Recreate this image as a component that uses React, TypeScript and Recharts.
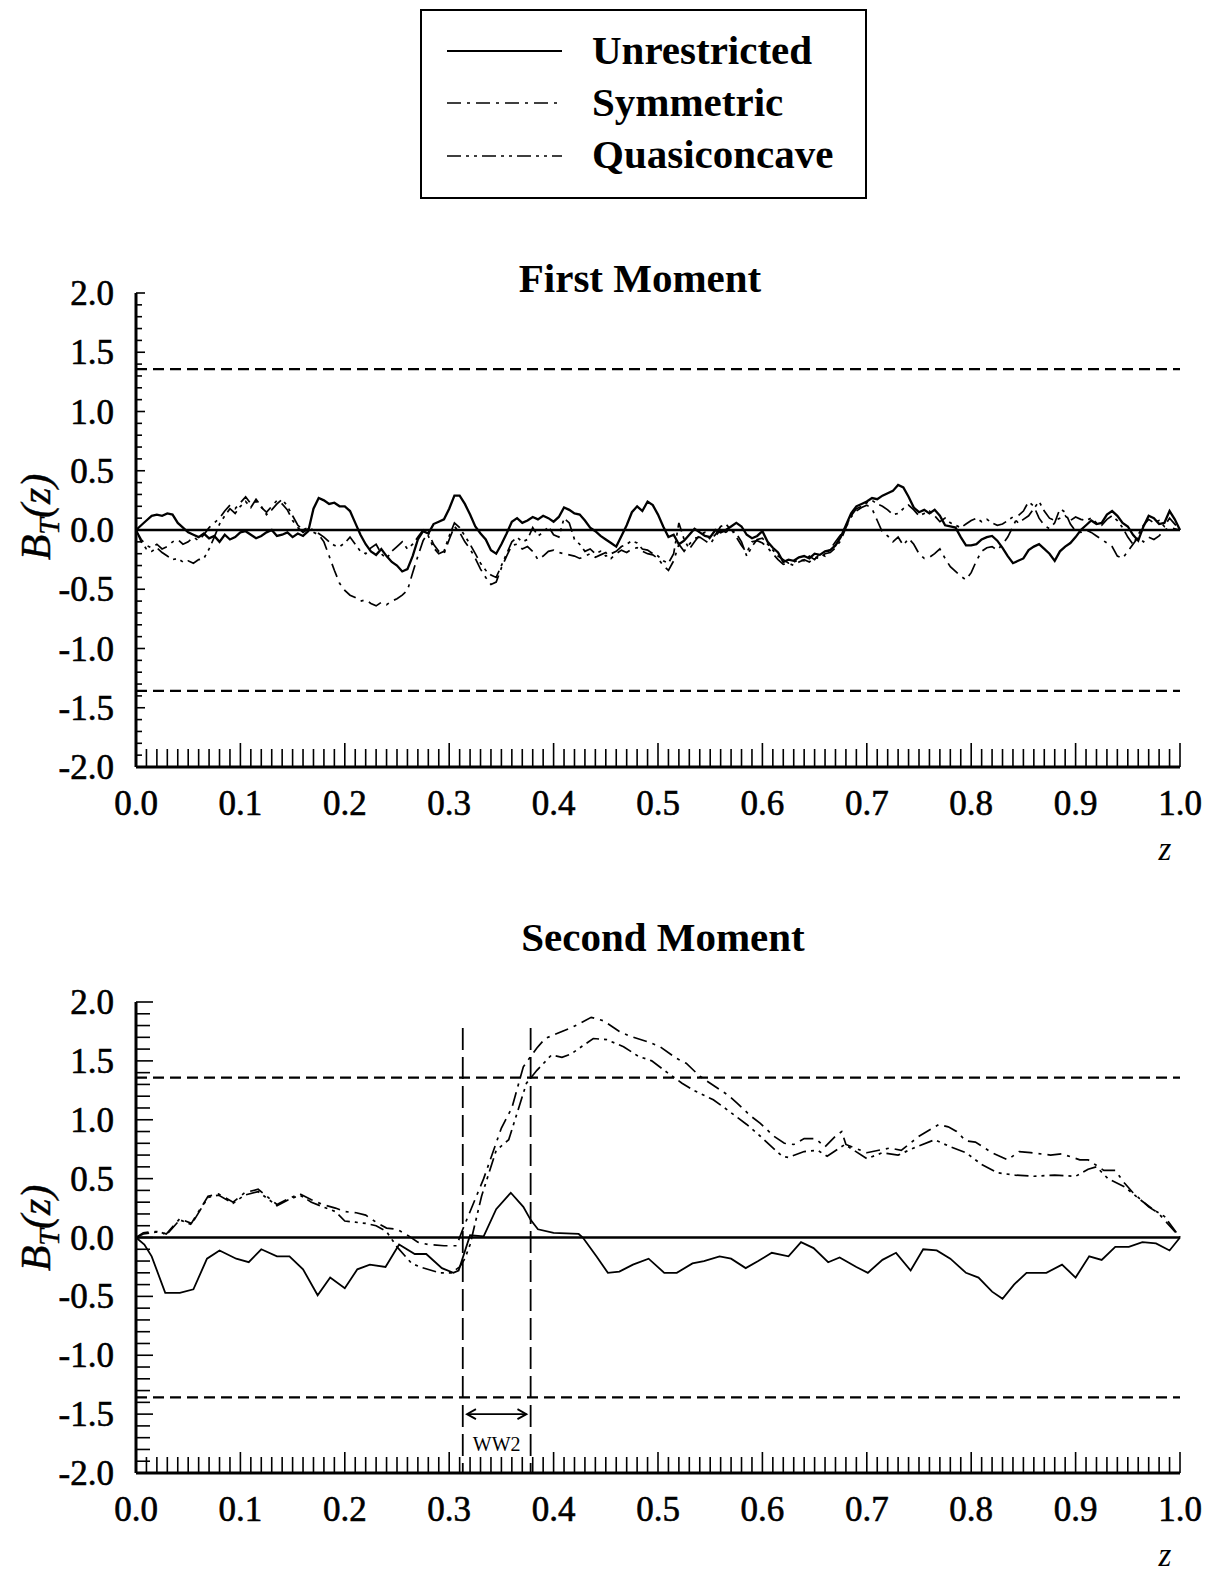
import React from "react";
import { LineChart, Line, XAxis, YAxis, ReferenceLine } from "recharts";

const FONT = '"Liberation Serif", "Times New Roman", serif';
const CRIT = 1.358;

// tick labels
const xLabelTicks = [0, 0.1, 0.2, 0.3, 0.4, 0.5, 0.6, 0.7, 0.8, 0.9, 1];
const yLabelTicks = [-2, -1.5, -1, -0.5, 0, 0.5, 1, 1.5, 2];
const xMinorTicks = Array.from({ length: 101 }, (_, i) => i / 100);
const yMinorTicks = Array.from({ length: 41 }, (_, i) => (i - 20) / 10);

// First moment: values on a 0.005 grid of z
const firstZ = Array.from({ length: 201 }, (_, i) => i / 200);

const firstUnrestricted = [
  0.0, 0.04, 0.08, 0.12, 0.13, 0.12, 0.14, 0.13, 0.06, 0.02,
  -0.02, -0.04, -0.06, -0.03, -0.07, -0.05, -0.1, -0.04, -0.08, -0.06,
  -0.02, -0.01, -0.04, -0.07, -0.05, -0.02, 0.0, -0.05, -0.04, -0.02,
  -0.06, -0.03, -0.05, -0.01, 0.18, 0.27, 0.25, 0.22, 0.23, 0.2,
  0.2, 0.16, 0.06, -0.04, -0.12, -0.18, -0.21, -0.16, -0.22, -0.27,
  -0.3, -0.35, -0.33, -0.22, -0.08, -0.01, -0.03, 0.05, 0.07, 0.09,
  0.18, 0.29, 0.29, 0.22, 0.13, 0.03, -0.03, -0.08, -0.17, -0.2,
  -0.12, -0.03, 0.07, 0.1, 0.06, 0.08, 0.11, 0.09, 0.12, 0.1,
  0.07, 0.11, 0.19, 0.17, 0.14, 0.13, 0.08, 0.02, -0.01, -0.05,
  -0.08, -0.11, -0.14, -0.05, 0.04, 0.15, 0.2, 0.16, 0.24, 0.21,
  0.13, 0.03, -0.06, -0.04, -0.12, -0.09, -0.04, 0.01, -0.02, -0.05,
  -0.06, 0.0, -0.02, 0.0, 0.03, 0.06, 0.03, -0.04, -0.07, -0.05,
  -0.01, -0.1, -0.15, -0.19, -0.27, -0.25, -0.26, -0.23, -0.22, -0.24,
  -0.2, -0.21, -0.18, -0.17, -0.13, -0.06, 0.04, 0.14, 0.2, 0.22,
  0.24, 0.27, 0.26, 0.29, 0.31, 0.33, 0.38, 0.36, 0.28, 0.19,
  0.15, 0.17, 0.14, 0.17, 0.12, 0.04, 0.03, 0.02, -0.06, -0.13,
  -0.13, -0.12, -0.08, -0.06, -0.05, -0.09, -0.15, -0.22, -0.28, -0.26,
  -0.24, -0.17, -0.14, -0.12, -0.16, -0.2, -0.26, -0.18, -0.14, -0.11,
  -0.06, 0.0, 0.04, 0.08, 0.05, 0.06, 0.13, 0.16, 0.12, 0.06,
  0.03, -0.04, -0.09, 0.03, 0.12, 0.1, 0.05, 0.06, 0.16, 0.09,
  0.0,
];

const firstSymmetric = [
  0.0, -0.08, -0.13, -0.15, -0.12, -0.16, -0.14, -0.1, -0.08, -0.12,
  -0.1, -0.06, -0.09, -0.04, 0.02, 0.06, 0.1, 0.16, 0.21, 0.18,
  0.23, 0.28, 0.22, 0.24, 0.19, 0.15, 0.2, 0.25, 0.22, 0.17,
  0.08, 0.02, -0.02, 0.01, -0.02, -0.04, -0.1, -0.22, -0.34, -0.45,
  -0.51, -0.55, -0.57, -0.6, -0.59, -0.62, -0.64, -0.61, -0.63, -0.6,
  -0.58, -0.55, -0.51, -0.36, -0.22, -0.09, -0.02, -0.12, -0.18, -0.2,
  -0.08, 0.03, -0.02, -0.1, -0.16, -0.24, -0.33, -0.4, -0.46, -0.44,
  -0.32, -0.22, -0.13, -0.12, -0.16, -0.14, -0.18, -0.25, -0.22, -0.18,
  -0.17, -0.19, -0.2, -0.21, -0.22, -0.24, -0.22, -0.2, -0.23, -0.21,
  -0.19, -0.24, -0.2, -0.17, -0.19, -0.16, -0.15, -0.18, -0.2, -0.21,
  -0.24, -0.3, -0.34, -0.26, -0.12, -0.18, -0.12, -0.07, -0.06, -0.09,
  -0.12, -0.05, 0.0, -0.02, 0.01, -0.06, -0.13, -0.19, -0.1, -0.09,
  -0.11, -0.15, -0.2, -0.25, -0.29, -0.28, -0.3, -0.27, -0.25, -0.27,
  -0.23, -0.24, -0.2, -0.19, -0.15, -0.09, 0.02, 0.11, 0.16, 0.19,
  0.21, 0.18, 0.08, -0.02, -0.05, -0.1, -0.06, -0.13, -0.07, -0.12,
  -0.2, -0.24, -0.23, -0.2, -0.16, -0.24, -0.31, -0.35, -0.39, -0.42,
  -0.36, -0.26, -0.18, -0.15, -0.14, -0.17, -0.12, -0.06, 0.03, 0.12,
  0.16, 0.24, 0.2, 0.1, 0.04, 0.01, 0.06, 0.18, 0.15, 0.05,
  -0.01, -0.02, 0.0, -0.02, -0.05, -0.08, -0.11, -0.14, -0.22, -0.24,
  -0.18, -0.12, -0.06, -0.1, -0.06, -0.08, -0.05, 0.0, 0.02, 0.01,
  0.0,
];

const firstQuasi = [
  0.0, -0.1, -0.16, -0.18, -0.15, -0.19, -0.22, -0.25, -0.24, -0.27,
  -0.26, -0.28, -0.25, -0.24, -0.16, -0.06, 0.05, 0.12, 0.18, 0.14,
  0.2, 0.24, 0.19, 0.26, 0.2, 0.13, 0.17, 0.22, 0.26, 0.2,
  0.12, 0.04, 0.0, 0.02, 0.0, -0.03, -0.06, -0.1, -0.13, -0.14,
  -0.11, -0.06, -0.12, -0.18, -0.2, -0.15, -0.12, -0.2, -0.24, -0.18,
  -0.14, -0.1, -0.16, -0.12, -0.06, 0.0, -0.05, -0.15, -0.2, -0.18,
  -0.05, 0.06, 0.02, -0.05, -0.12, -0.2, -0.28, -0.34, -0.38, -0.4,
  -0.3, -0.2, -0.1, -0.06, -0.1, -0.08, 0.02, -0.05, -0.02, 0.03,
  -0.04, -0.06, 0.1, 0.06, -0.08, -0.12, -0.18, -0.16, -0.2, -0.18,
  -0.22, -0.2, -0.18, -0.14, -0.12, -0.09, -0.11, -0.16, -0.17, -0.2,
  -0.22, -0.26, -0.28, -0.2, 0.06, -0.08, -0.16, -0.1, -0.04, -0.02,
  -0.08, -0.04, 0.03, 0.05, 0.0, -0.03, -0.1, -0.22, -0.14, -0.08,
  -0.07, -0.12, -0.17, -0.22, -0.25, -0.28, -0.27, -0.25, -0.26, -0.22,
  -0.25, -0.2, -0.22, -0.16, -0.1, -0.04, 0.03, 0.12, 0.18, 0.2,
  0.23, 0.25, 0.22, 0.2, 0.17, 0.13, 0.14, 0.18, 0.21, 0.17,
  0.12, 0.14, 0.16, 0.12, 0.07, 0.1, 0.06, 0.04, 0.02, 0.05,
  0.08, 0.1, 0.07, 0.09, 0.06, 0.04, 0.05, 0.08, 0.11, 0.06,
  0.09, 0.12, 0.18, 0.24, 0.16, 0.1, 0.08, 0.1, 0.12, 0.08,
  0.11, 0.09, 0.08, 0.1, 0.06, 0.04, 0.09, 0.12, 0.08, 0.02,
  -0.06, -0.12, -0.04, 0.04, 0.09, 0.06, 0.08, 0.03, 0.1, 0.05,
  0.0,
];

// Second moment: [z, B] vertices
const secondUnrestricted: [number, number][] = [
  [0, 0], [0.008, -0.06], [0.015, -0.16], [0.028, -0.47], [0.042, -0.47],
  [0.055, -0.44], [0.068, -0.18], [0.08, -0.11], [0.096, -0.18], [0.108, -0.21],
  [0.12, -0.1], [0.135, -0.16], [0.147, -0.16], [0.16, -0.27], [0.174, -0.49],
  [0.186, -0.34], [0.2, -0.43], [0.212, -0.27], [0.224, -0.23], [0.239, -0.25],
  [0.252, -0.06], [0.267, -0.14], [0.278, -0.14], [0.293, -0.26], [0.304, -0.3],
  [0.309, -0.28], [0.32, 0.02], [0.333, 0.01], [0.345, 0.24], [0.359, 0.38],
  [0.371, 0.26], [0.378, 0.15], [0.385, 0.07], [0.4, 0.04], [0.424, 0.03],
  [0.428, 0], [0.441, -0.16], [0.452, -0.3], [0.463, -0.29], [0.476, -0.23],
  [0.491, -0.18], [0.506, -0.3], [0.518, -0.3], [0.533, -0.22], [0.544, -0.2],
  [0.559, -0.16], [0.57, -0.18], [0.584, -0.26], [0.596, -0.2], [0.609, -0.13],
  [0.625, -0.16], [0.637, -0.04], [0.649, -0.09], [0.663, -0.21], [0.674, -0.17],
  [0.69, -0.25], [0.701, -0.3], [0.715, -0.19], [0.728, -0.13], [0.742, -0.28],
  [0.754, -0.1], [0.767, -0.11], [0.78, -0.18], [0.795, -0.3], [0.807, -0.34],
  [0.82, -0.46], [0.83, -0.52], [0.841, -0.4], [0.853, -0.3], [0.861, -0.3],
  [0.872, -0.3], [0.887, -0.23], [0.9, -0.34], [0.913, -0.16], [0.925, -0.19],
  [0.938, -0.08], [0.951, -0.08], [0.964, -0.04], [0.977, -0.05], [0.99, -0.11],
  [1, 0],
];

const secondSymmetric: [number, number][] = [
  [0, 0], [0.007, 0.04], [0.015, 0.05], [0.023, 0.05], [0.029, 0.03], [0.042, 0.16],
  [0.053, 0.12], [0.069, 0.35], [0.079, 0.37], [0.093, 0.3], [0.104, 0.38], [0.117, 0.41],
  [0.135, 0.28], [0.146, 0.33], [0.157, 0.37], [0.168, 0.32], [0.179, 0.28], [0.191, 0.25],
  [0.2, 0.22], [0.211, 0.21], [0.22, 0.19], [0.23, 0.13], [0.24, 0.08], [0.25, 0.07],
  [0.26, 0.02], [0.27, -0.04], [0.28, -0.06], [0.295, -0.07], [0.307, -0.07], [0.313, 0.07],
  [0.333, 0.5], [0.35, 0.93], [0.36, 1.1], [0.371, 1.45], [0.384, 1.61], [0.392, 1.69],
  [0.408, 1.75], [0.419, 1.79], [0.436, 1.87], [0.448, 1.84], [0.463, 1.75], [0.473, 1.71],
  [0.491, 1.66], [0.502, 1.62], [0.518, 1.52], [0.527, 1.48], [0.54, 1.37], [0.55, 1.31],
  [0.567, 1.21], [0.576, 1.14], [0.589, 1.03], [0.598, 0.97], [0.611, 0.86], [0.621, 0.8],
  [0.63, 0.79], [0.64, 0.84], [0.651, 0.84], [0.66, 0.77], [0.67, 0.86], [0.676, 0.9],
  [0.68, 0.79], [0.7, 0.72], [0.722, 0.76], [0.733, 0.74], [0.75, 0.86], [0.769, 0.96],
  [0.778, 0.94], [0.786, 0.9], [0.795, 0.82], [0.804, 0.81], [0.82, 0.72], [0.835, 0.66],
  [0.846, 0.73], [0.857, 0.72], [0.876, 0.7], [0.887, 0.71], [0.904, 0.66], [0.912, 0.66],
  [0.927, 0.57], [0.938, 0.57], [0.947, 0.46], [0.955, 0.38], [0.97, 0.26], [0.979, 0.21],
  [0.988, 0.12], [1, 0],
];

const secondQuasi: [number, number][] = [
  [0, 0], [0.007, 0.03], [0.015, 0.04], [0.023, 0.05], [0.029, 0.02], [0.042, 0.15],
  [0.053, 0.11], [0.069, 0.34], [0.079, 0.36], [0.093, 0.29], [0.104, 0.36], [0.117, 0.39],
  [0.135, 0.27], [0.146, 0.32], [0.157, 0.36], [0.168, 0.3], [0.179, 0.26], [0.191, 0.22],
  [0.2, 0.14], [0.21, 0.13], [0.22, 0.12], [0.23, 0.1], [0.24, 0.05], [0.25, -0.08],
  [0.264, -0.22], [0.272, -0.25], [0.291, -0.3], [0.302, -0.3], [0.31, -0.25], [0.315, -0.18],
  [0.32, -0.06], [0.331, 0.35], [0.345, 0.74], [0.357, 0.83], [0.374, 1.31], [0.384, 1.42],
  [0.398, 1.55], [0.408, 1.53], [0.417, 1.56], [0.425, 1.61], [0.438, 1.69], [0.451, 1.68],
  [0.467, 1.62], [0.481, 1.54], [0.494, 1.5], [0.509, 1.4], [0.523, 1.31], [0.534, 1.25],
  [0.553, 1.17], [0.567, 1.08], [0.585, 0.96], [0.598, 0.86], [0.609, 0.77], [0.619, 0.69],
  [0.625, 0.68], [0.64, 0.73], [0.653, 0.74], [0.662, 0.69], [0.679, 0.79], [0.7, 0.67],
  [0.715, 0.72], [0.73, 0.7], [0.745, 0.76], [0.765, 0.83], [0.78, 0.77], [0.795, 0.72],
  [0.81, 0.62], [0.825, 0.55], [0.842, 0.53], [0.86, 0.52], [0.88, 0.53], [0.9, 0.52],
  [0.912, 0.58], [0.92, 0.6], [0.931, 0.5], [0.947, 0.43], [0.962, 0.32], [0.974, 0.24],
  [0.985, 0.18], [1, 0],
];

// WW2 window
const ww2Start = 0.313;
const ww2End = 0.378;

const SYM_DASH = "14 6 3 6";
const QUASI_DASH = "14 5 3 5 3 5";

const gridSeries = (vals: number[]) => vals.map((v, i) => ({ z: firstZ[i], v }));
const pairSeries = (pts: [number, number][]) => pts.map(([z, v]) => ({ z, v }));

const isIn = (list: number[], v: number) => list.some((t) => Math.abs(t - v) < 1e-9);

type PanelProps = {
  top: number;
  height: number;
  plotTop: number;
  plotBottom: number;
  yMinorLen: number;
  yMajorLen: number;
  xMinorLen: number;
  xMajorLen: number;
  lineWidth: number;
  solidWidth: number;
  unrestricted: { z: number; v: number }[];
  symmetric: { z: number; v: number }[];
  quasi: { z: number; v: number }[];
  children?: React.ReactNode;
};

const PLOT_LEFT = 136;
const PLOT_RIGHT = 1180;
const WIDTH = 1214;

function Panel(p: PanelProps) {
  const yTick = (props: any) => {
    const { y, payload } = props;
    const v = payload.value;
    const major = isIn(yLabelTicks, v);
    return (
      <g>
        <line
          x1={PLOT_LEFT}
          x2={PLOT_LEFT + (major ? p.yMajorLen : p.yMinorLen)}
          y1={y}
          y2={y}
          stroke="#000"
          strokeWidth={1.6}
        />
        {major && (
          <text
            x={PLOT_LEFT - 22}
            y={y + 12}
            textAnchor="end"
            fontFamily={FONT}
            fontSize={35}
            fill="#000"
            stroke="#000"
            strokeWidth={0.6}
          >
            {v.toFixed(1)}
          </text>
        )}
      </g>
    );
  };
  const xTick = (props: any) => {
    const { x, payload } = props;
    const v = payload.value;
    const major = isIn(xLabelTicks, v);
    return (
      <g>
        <line
          x1={x}
          x2={x}
          y1={p.plotBottom}
          y2={p.plotBottom - (major ? p.xMajorLen : p.xMinorLen)}
          stroke="#000"
          strokeWidth={1.6}
        />
        {major && (
          <text
            x={x}
            y={p.plotBottom + 48}
            textAnchor="middle"
            fontFamily={FONT}
            fontSize={35}
            fill="#000"
            stroke="#000"
            strokeWidth={0.6}
          >
            {v.toFixed(1)}
          </text>
        )}
      </g>
    );
  };
  const axisH = 60;
  const yW = 100;
  return (
    <div style={{ position: "absolute", left: 0, top: p.top, width: WIDTH, height: p.height }}>
      <LineChart
        width={WIDTH}
        height={p.height}
        margin={{
          top: p.plotTop,
          left: PLOT_LEFT - yW,
          right: WIDTH - PLOT_RIGHT,
          bottom: p.height - p.plotBottom - axisH,
        }}
      >
        <XAxis
          type="number"
          dataKey="z"
          domain={[0, 1]}
          ticks={xMinorTicks}
          interval={0}
          tick={xTick}
          tickLine={false}
          axisLine={{ stroke: "#000", strokeWidth: 3 }}
          height={axisH}
        />
        <YAxis
          type="number"
          domain={[-2, 2]}
          ticks={yMinorTicks}
          interval={0}
          tick={yTick}
          tickLine={false}
          axisLine={{ stroke: "#000", strokeWidth: 3 }}
          width={yW}
        />
        <ReferenceLine y={0} stroke="#000" strokeWidth={2.5} />
        <ReferenceLine y={CRIT} stroke="#000" strokeWidth={2.2} strokeDasharray="11 6" />
        <ReferenceLine y={-CRIT} stroke="#000" strokeWidth={2.2} strokeDasharray="11 6" />
        {p.children}
        <Line
          data={p.quasi}
          dataKey="v"
          type="linear"
          dot={false}
          stroke="#000"
          strokeWidth={p.lineWidth}
          strokeDasharray={QUASI_DASH}
          isAnimationActive={false}
        />
        <Line
          data={p.symmetric}
          dataKey="v"
          type="linear"
          dot={false}
          stroke="#000"
          strokeWidth={p.lineWidth}
          strokeDasharray={SYM_DASH}
          isAnimationActive={false}
        />
        <Line
          data={p.unrestricted}
          dataKey="v"
          type="linear"
          dot={false}
          stroke="#000"
          strokeWidth={p.solidWidth}
          isAnimationActive={false}
        />
      </LineChart>
    </div>
  );
}

const ww2Arrow = (props: any) => {
  const { x1, x2, y1 } = props;
  const h = 9;
  return (
    <g>
      <line x1={x1} x2={x2} y1={y1} y2={y1} stroke="#000" strokeWidth={1.8} />
      <path d={`M${x1 + h} ${y1 - 5} L${x1} ${y1} L${x1 + h} ${y1 + 5}`} fill="none" stroke="#000" strokeWidth={1.8} />
      <path d={`M${x2 - h} ${y1 - 5} L${x2} ${y1} L${x2 - h} ${y1 + 5}`} fill="none" stroke="#000" strokeWidth={1.8} />
      <text x={(x1 + x2) / 2} y={y1 + 37} textAnchor="middle" fontFamily={FONT} fontSize={20} fill="#000">
        WW2
      </text>
    </g>
  );
};

function BLabel({ cy }: { cy: number }) {
  return (
    <text
      transform={`translate(50, ${cy}) rotate(-90)`}
      textAnchor="middle"
      fontFamily={FONT}
      fontStyle="italic"
      fontSize={42}
      fill="#000"
      stroke="#000"
      strokeWidth={0.4}
    >
      B<tspan fontSize={30} dy={9}>T</tspan>
      <tspan dy={-9}>(z)</tspan>
    </text>
  );
}

export default function App() {
  return (
    <div style={{ position: "absolute", left: 0, top: 0, width: WIDTH, height: 1572, background: "#fff" }}>
      <Panel
        top={0}
        height={900}
        plotTop={293}
        plotBottom={767}
        yMinorLen={6}
        yMajorLen={9}
        xMinorLen={18}
        xMajorLen={24}
        lineWidth={1.7}
        solidWidth={2.3}
        unrestricted={gridSeries(firstUnrestricted)}
        symmetric={gridSeries(firstSymmetric)}
        quasi={gridSeries(firstQuasi)}
      />
      <Panel
        top={900}
        height={672}
        plotTop={102}
        plotBottom={573}
        yMinorLen={14}
        yMajorLen={17}
        xMinorLen={16}
        xMajorLen={21}
        lineWidth={1.7}
        solidWidth={1.8}
        unrestricted={pairSeries(secondUnrestricted)}
        symmetric={pairSeries(secondSymmetric)}
        quasi={pairSeries(secondQuasi)}
      >
        <ReferenceLine
          segment={[{ x: ww2Start, y: 1.78 }, { x: ww2Start, y: -2 }]}
          stroke="#000"
          strokeWidth={1.8}
          strokeDasharray="22 7"
        />
        <ReferenceLine
          segment={[{ x: ww2End, y: 1.78 }, { x: ww2End, y: -2 }]}
          stroke="#000"
          strokeWidth={1.8}
          strokeDasharray="22 7"
        />
        <ReferenceLine
          segment={[{ x: 0.317, y: -1.5 }, { x: 0.374, y: -1.5 }]}
          stroke="#000"
          shape={ww2Arrow}
        />
      </Panel>
      <svg
        width={WIDTH}
        height={1572}
        style={{ position: "absolute", left: 0, top: 0, pointerEvents: "none" }}
      >
        <rect x={421} y={10} width={445} height={188} fill="none" stroke="#000" strokeWidth={2} />
        <line x1={447} x2={562} y1={51} y2={51} stroke="#000" strokeWidth={1.8} />
        <line x1={447} x2={562} y1={103} y2={103} stroke="#000" strokeWidth={1.6} strokeDasharray={SYM_DASH} />
        <line x1={447} x2={562} y1={156} y2={156} stroke="#000" strokeWidth={1.6} strokeDasharray={QUASI_DASH} />
        <g fontFamily={FONT} fontWeight="bold" fontSize={41} fill="#000">
          <text x={592} y={64}>Unrestricted</text>
          <text x={592} y={116}>Symmetric</text>
          <text x={592} y={168}>Quasiconcave</text>
          <text x={640} y={292} textAnchor="middle">First Moment</text>
          <text x={663} y={951} textAnchor="middle">Second Moment</text>
        </g>
        <BLabel cy={517} />
        <BLabel cy={1228} />
        <g fontFamily={FONT} fontStyle="italic" fontSize={33} fill="#000">
          <text x={1165} y={860} textAnchor="middle">z</text>
          <text x={1165} y={1566} textAnchor="middle">z</text>
        </g>
      </svg>
    </div>
  );
}
